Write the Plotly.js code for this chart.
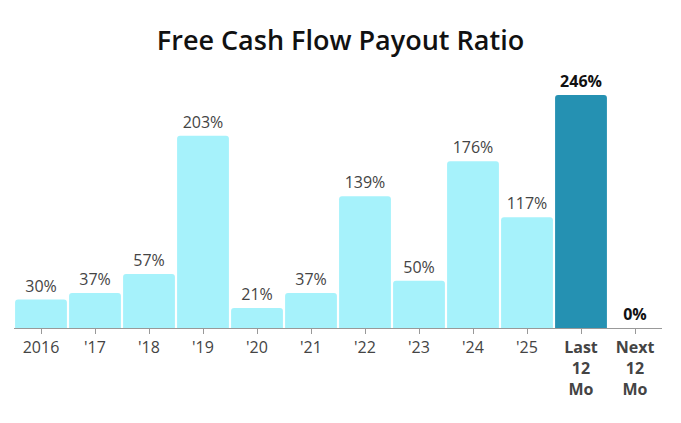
<!DOCTYPE html>
<html><head><meta charset="utf-8">
<script src="https://cdn.plot.ly/plotly-3.0.1.min.js"></script>
<style>body{margin:0;background:#fff}#c{width:681px;height:423px}</style>
</head><body><div id="c"></div>
<script>
const categories = ["2016","'17","'18","'19","'20","'21","'22","'23","'24","'25","Last 12 Mo","Next 12 Mo"];
const tickLabels = ["2016","'17","'18","'19","'20","'21","'22","'23","'24","'25","<b>Last<br>12<br>Mo</b>","<b>Next<br>12<br>Mo</b>"];
const values = [30,37,57,203,21,37,139,50,176,117,246,0];
const highlighted = [false,false,false,false,false,false,false,false,false,false,true,true];

const labels = values.map((v,i)=> highlighted[i] ? "<b>"+v+"%</b>" : v+"%");
const barColors = values.map((v,i)=> i===10 ? "#2591b2" : "#a6f2fb");
const textColors = highlighted.map(h=> h ? "#111" : "#444");

Plotly.newPlot("c",[{
  type:"bar", x:categories, y:values,
  marker:{color:barColors, cornerradius:3, line:{width:0}},
  text:labels, textposition:"outside", cliponaxis:false,
  textfont:{family:"Open Sans", size:16, color:textColors},
  hoverinfo:"none"
}],{
  width:681, height:423,
  margin:{l:14,r:19,t:60,b:95},
  paper_bgcolor:"#fff", plot_bgcolor:"#fff",
  bargap:0.04,
  title:{text:"Free Cash Flow Payout Ratio", x:0.5, xanchor:"center", y:0.905, yanchor:"middle",
    font:{family:"Open Sans", size:27, weight:600, color:"#111"}},
  xaxis:{type:"category", tickmode:"array", tickvals:categories, ticktext:tickLabels,
    tickfont:{family:"Open Sans", size:16, color:"#444"},
    ticks:"outside", ticklen:5, tickcolor:"#999", showline:true, linecolor:"#999", linewidth:1,
    showgrid:false, fixedrange:true},
  yaxis:{range:[0,283], visible:false, showgrid:false, zeroline:false, fixedrange:true},
  showlegend:false
},{displayModeBar:false, staticPlot:true});
</script></body></html>
